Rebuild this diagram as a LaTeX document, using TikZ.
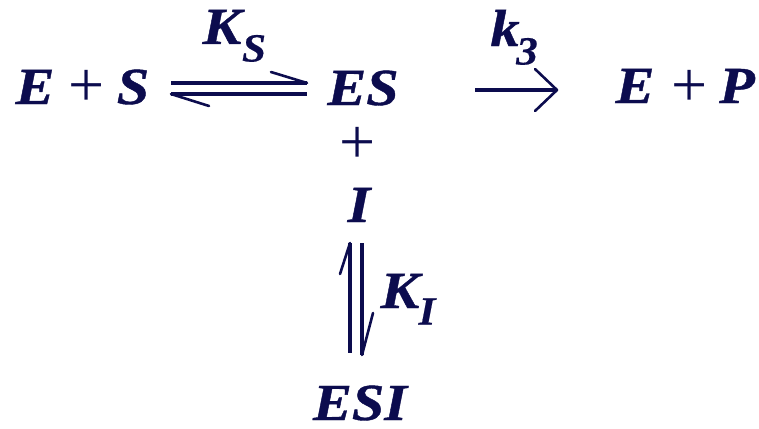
\documentclass[tikz,border=0pt]{standalone}
\usepackage{fontspec}
\setmainfont{Liberation Serif}
\newfontface\heavybi{Liberation Serif Bold Italic}[FakeBold=0.8, FakeStretch=1.12]
\newfontface\subbi{Liberation Serif Bold Italic}[FakeBold=0.4, FakeStretch=1.08]
\definecolor{navy}{RGB}{12,12,78}
\begin{document}
\begin{tikzpicture}[x=1pt,y=-1pt,
  sp/.style={font=\fontsize{52}{52}\selectfont\heavybi, text=navy, inner sep=0pt, text height=34pt, text depth=0pt},
  sub/.style={font=\fontsize{40}{40}\selectfont\subbi, text=navy, inner sep=0pt, text height=27pt, text depth=0pt},
  pl/.style={font=\fontsize{64}{64}\selectfont, text=navy, inner sep=0pt, anchor=base},
  ln/.style={draw=navy, line width=3.2pt},
  barb/.style={draw=navy, line width=2.6pt, line cap=round, line join=round}]
\useasboundingbox (0,0) rectangle (759,428);
% species
\node[sp] (E1) at (35,87) {E};
\node[pl] (p1) at (87,106) {+};
\node[sp] (S1) at (133,87) {S};
\node[sp] (ES) at (363,88) {ES};
\node[pl] (p2) at (358,163) {+};
\node[sp] (I) at (359,205) {I};
\node[sp] (ESI) at (360,403) {ESI};
\node[sp] (E2) at (635,86) {E};
\node[pl] (p3) at (690,106) {+};
\node[sp] (P) at (737,86) {P};
% labels
\node[sp] (KS) at (222,27) {K};
\node[sub] (KSs) at (254,48) {S};
\node[sp] (k3) at (505,29) {k};
\node[sub] (k3s) at (527,51) {3};
\node[sp] (KI) at (400,291) {K};
\node[sub] (KIs) at (427,311) {I};
% horizontal equilibrium harpoons
\coordinate (h1a) at (171,83);
\coordinate (h1b) at (307,83);
\coordinate (h2a) at (171,94);
\coordinate (h2b) at (307,94);
\draw[ln] (h1a) -- (h1b);
\draw[barb] (h1b) -- (271,72);
\draw[ln] (h2a) -- (h2b);
\draw[barb] (h2a) -- (209,106);
% forward arrow
\coordinate (a1) at (475,90);
\coordinate (a2) at (557,90);
\draw[ln] (a1) -- (a2);
\draw[barb] (535,69) -- (a2) -- (535,111);
% vertical equilibrium harpoons
\coordinate (v1a) at (350,243);
\coordinate (v1b) at (350,353);
\coordinate (v2a) at (362,243);
\coordinate (v2b) at (362,355);
\draw[ln] (v1a) -- (v1b);
\draw[barb] (v1a) -- (340,274);
\draw[ln] (v2a) -- (v2b);
\draw[barb] (v2b) -- (373,313);
\end{tikzpicture}
\end{document}
